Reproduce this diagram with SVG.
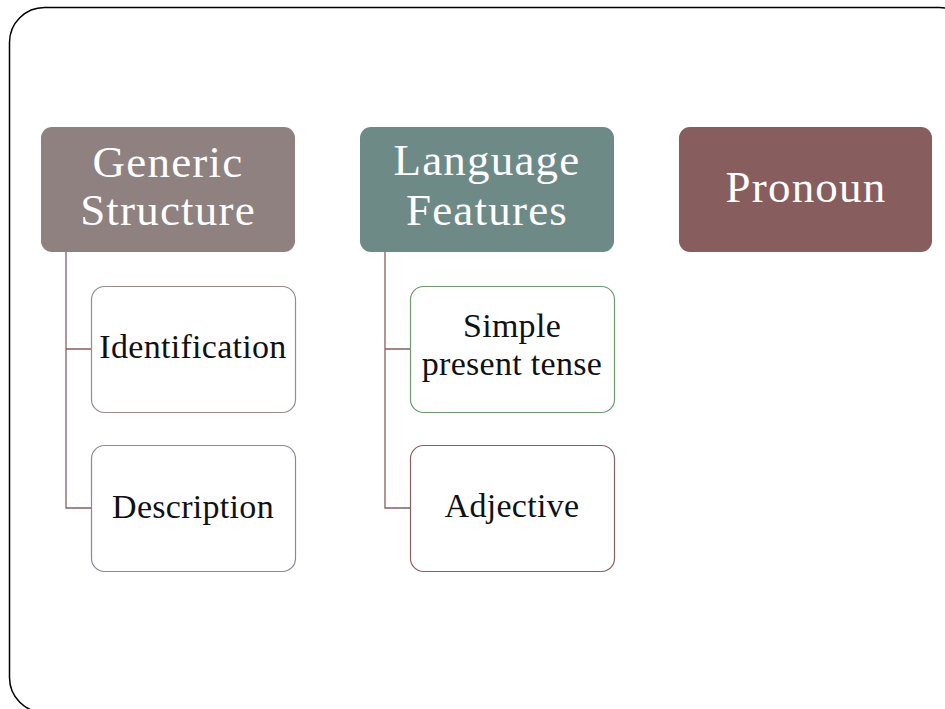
<svg xmlns="http://www.w3.org/2000/svg" width="945" height="709" viewBox="0 0 945 709">
<style>
.head{font-family:"Liberation Serif",serif;font-size:45px;fill:#ffffff;text-anchor:middle;letter-spacing:1.2px}
.child{font-family:"Liberation Serif",serif;font-size:34px;fill:#111111;text-anchor:middle;letter-spacing:0.3px}
.box{fill:#ffffff;stroke-width:1.2}
.conn{fill:none;stroke:#8b5e5e;stroke-width:1.3}
</style>
<rect x="9.5" y="7.5" width="965" height="705" rx="35" fill="#ffffff" stroke="#000000" stroke-width="1.5"/>
<g id="connectors">
<path class="conn" d="M66 252 V508 H91 M66 349 H91"/>
<path class="conn" d="M385 252 V508 H410 M385 349 H410"/>
</g>
<g id="generic-structure">
<rect x="41" y="127" width="254" height="125" rx="11" fill="#8e8180"/>
<text class="head" x="168" y="177">Generic</text>
<text class="head" x="168" y="225">Structure</text>
</g>
<g id="language-features">
<rect x="360" y="127" width="254" height="125" rx="11" fill="#6e8a87"/>
<text class="head" x="487" y="175">Language</text>
<text class="head" x="487" y="225">Features</text>
</g>
<g id="pronoun">
<rect x="679" y="127" width="253" height="125" rx="11" fill="#875e5d"/>
<text class="head" x="806" y="202">Pronoun</text>
</g>
<g id="identification">
<rect class="box" x="91.5" y="286.5" width="204" height="126" rx="13" stroke="#9a8a8a"/>
<text class="child" x="193" y="358">Identification</text>
</g>
<g id="description">
<rect class="box" x="91.5" y="445.5" width="204" height="126" rx="13" stroke="#8a88a0"/>
<text class="child" x="193" y="518">Description</text>
</g>
<g id="simple-present-tense">
<rect class="box" x="410.5" y="286.5" width="204" height="126" rx="13" stroke="#6e9a6e"/>
<text class="child" x="512" y="337">Simple</text>
<text class="child" x="512" y="375">present tense</text>
</g>
<g id="adjective">
<rect class="box" x="410.5" y="445.5" width="204" height="126" rx="13" stroke="#8e5f5e"/>
<text class="child" x="512" y="517">Adjective</text>
</g>
</svg>
